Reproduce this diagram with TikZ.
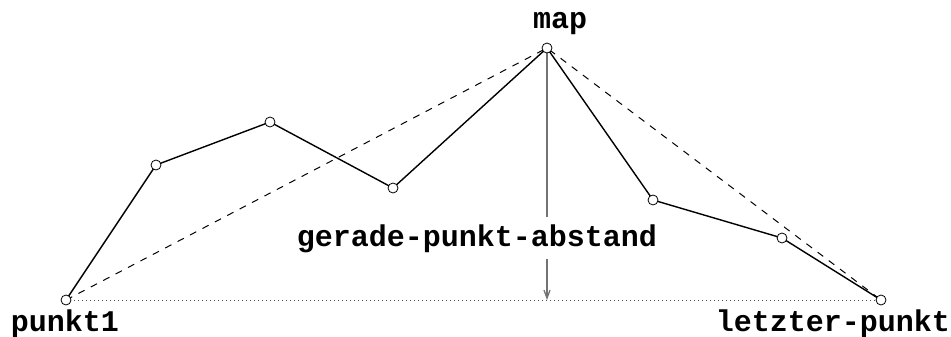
\documentclass[tikz,border=0pt]{standalone}
\usepackage{fontspec}
\setmonofont{Liberation Mono}
\usetikzlibrary{arrows.meta}
\begin{document}
\begin{tikzpicture}[x=1pt,y=-1pt,
  pt/.style={circle,draw=black,fill=white,line width=0.8pt,minimum size=10pt,inner sep=0pt},
  lbl/.style={font=\ttfamily\bfseries\fontsize{30}{32}\selectfont,inner sep=0pt},
  poly/.style={line width=1.4pt,black},
  dsh/.style={line width=1pt,dash pattern=on 7pt off 7pt},
  dot/.style={line width=0.9pt,black!70,dash pattern=on 1pt off 3pt},
  measure/.style={line width=1.3pt,black!55,{Straight Barb[length=8pt,width=6pt]}-{Straight Barb[length=8pt,width=6pt]}}]
\useasboundingbox (0,0) rectangle (951,337);
\coordinate (c1) at (66,300);
\coordinate (c2) at (156,165);
\coordinate (c3) at (270,122);
\coordinate (c4) at (393,188);
\coordinate (cm) at (547,48);
\coordinate (c6) at (653,200);
\coordinate (c7) at (782,238);
\coordinate (c8) at (881,300);
\coordinate (foot) at (547,300);
% reference lines
\draw[dot] (c1) -- (c8);
\draw[dsh] (c1) -- (cm) -- (c8);
% measurement arrow
\draw[measure] ([yshift=5.5pt]cm) -- (foot);
\node[lbl,fill=white,inner xsep=2pt,inner ysep=7pt,anchor=base] (dist) at (477,246) {gerade-punkt-abstand};
% polyline
\draw[poly] (c1) -- (c2) -- (c3) -- (c4) -- (cm) -- (c6) -- (c7) -- (c8);
% points
\node[pt] (p1) at (c1) {};
\node[pt] (p2) at (c2) {};
\node[pt] (p3) at (c3) {};
\node[pt] (p4) at (c4) {};
\node[pt] (pm) at (cm) {};
\node[pt] (p6) at (c6) {};
\node[pt] (p7) at (c7) {};
\node[pt] (p8) at (c8) {};
% labels
\node[lbl,anchor=base] (l1) at (65,331) {punkt1};
\node[lbl,anchor=base] (lm) at (560,29) {map};
\node[lbl,anchor=base east] (l8) at (950,331) {letzter-punkt};
\end{tikzpicture}
\end{document}
